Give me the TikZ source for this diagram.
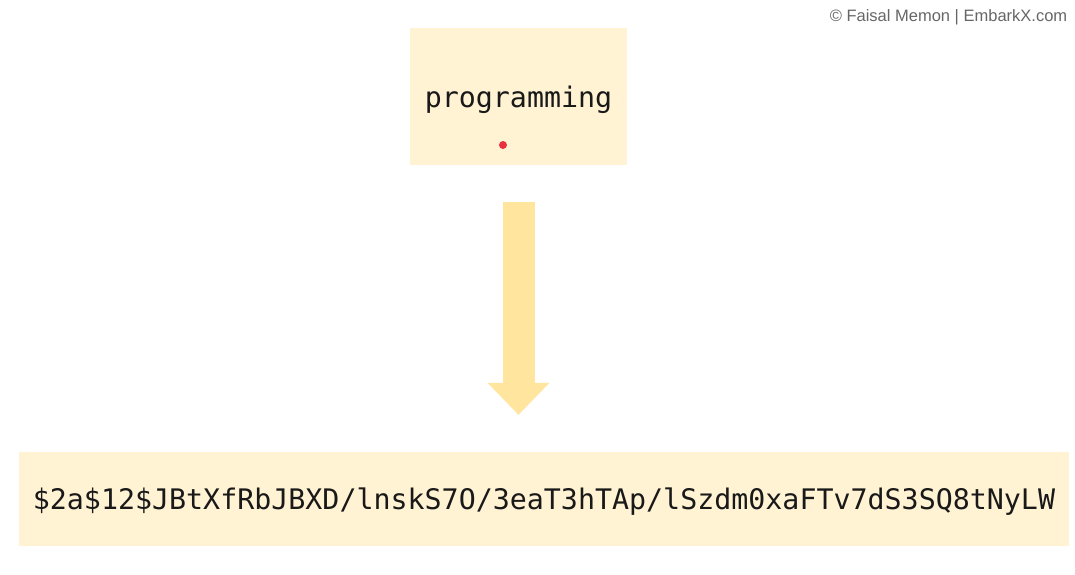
\documentclass[tikz,border=0pt]{standalone}
\usepackage{fontspec}
\setmainfont{Liberation Sans}
\setmonofont{DejaVu Sans Mono}
\usepackage{xcolor}
\usepackage{tikz}
\usetikzlibrary{arrows.meta,calc}
\definecolor{boxfill}{HTML}{FFF3D3}
\definecolor{arrowfill}{HTML}{FFE59D}
\definecolor{dotred}{HTML}{E8323F}
\definecolor{creditgray}{HTML}{666666}

\begin{document}
\begin{tikzpicture}[x=1pt, y=-1pt,
    textbox/.style={fill=boxfill, inner sep=0pt, text=black!90, text depth=0pt,
        font=\ttfamily\fontsize{28.3}{34}\selectfont},
    hasharrow/.style={arrowfill, line width=32pt,
        -{Triangle[width=62pt, length=32pt, line width=0pt]},
        shorten <=37pt, shorten >=37pt}]
   \useasboundingbox (0,0) rectangle (1075,574);

   % Credit line
   \node (credit) at (948.5,17) [text=creditgray, font=\fontsize{16.5}{19}\selectfont] {© Faisal Memon | EmbarkX.com};

   % Plain password
   \node (plain) at (518.5,96.5) [textbox, minimum width=217pt, minimum height=137pt] {programming};
   \node (pointer) at (503,145) [circle, fill=dotred, minimum size=8pt, inner sep=0pt] {};

   % Hashed password
   \node (hash) at (544,499) [textbox, minimum width=1050pt, minimum height=94pt] {\$2a\$12\$JBtXfRbJBXD/lnskS7O/3eaT3hTAp/lSzdm0xaFTv7dS3SQ8tNyLW};

   % Hashing arrow
   \draw[hasharrow] (plain.south) -- (plain.south |- hash.north);

\end{tikzpicture}
\end{document}
